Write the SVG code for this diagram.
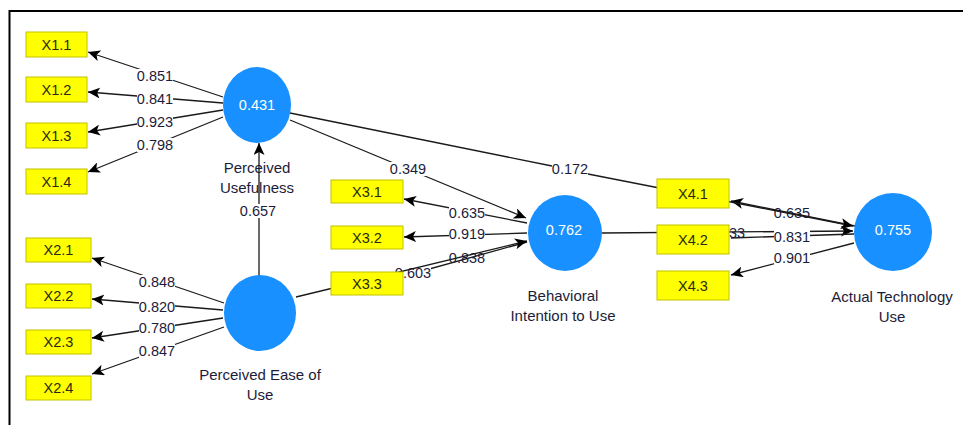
<svg xmlns="http://www.w3.org/2000/svg" width="963" height="425" viewBox="0 0 963 425">
<defs>
<marker id="ah" markerUnits="userSpaceOnUse" markerWidth="13" markerHeight="11" refX="12" refY="5.5" orient="auto">
<path d="M0,0 L12,5.5 L0,11 L3,5.5 z" fill="#000"/>
</marker>
<style>
.c{stroke:#1a1a1a;stroke-width:1.3;fill:none}
.a{marker-end:url(#ah)}
.t{font-family:"Liberation Sans",Arial,sans-serif;font-size:14.5px;text-anchor:middle;fill:#1c1c3a}
.n{font-size:15px}
.bg{fill:#fff}
.ind rect{fill:#ffff00;stroke:#c2c200;stroke-width:1}
.ind text{font-family:"Liberation Sans",Arial,sans-serif;font-size:14.5px;text-anchor:middle;fill:#2a2a10}
.lv ellipse{fill:#1890ff}
.lv .v{font-family:"Liberation Sans",Arial,sans-serif;font-size:14.5px;text-anchor:middle;fill:#fff}
</style>
</defs>
<rect width="963" height="425" fill="#fff"/>
<path d="M9.5,425 V11 H963" fill="none" stroke="#000" stroke-width="2"/>

<g id="connectors">
<line class="c a" x1="223" y1="97" x2="88" y2="52"/>
<line class="c a" x1="223" y1="103" x2="88" y2="92"/>
<line class="c a" x1="223" y1="110" x2="88" y2="132"/>
<line class="c a" x1="223" y1="117" x2="88" y2="172"/>
<line class="c a" x1="224" y1="303" x2="92" y2="258"/>
<line class="c a" x1="223" y1="310" x2="92" y2="299"/>
<line class="c a" x1="223" y1="318" x2="92" y2="338"/>
<line class="c a" x1="224" y1="327" x2="92" y2="374"/>
<line class="c a" x1="259" y1="276" x2="259" y2="143"/>
<line class="c a" x1="290" y1="120" x2="526" y2="218"/>
<line class="c a" x1="527" y1="223" x2="404" y2="199"/>
<line class="c a" x1="527" y1="233" x2="404" y2="237"/>
<line class="c" x1="527" y1="242" x2="404" y2="276"/>
<line class="c a" x1="602" y1="233" x2="853" y2="231"/>
<line class="c" x1="854" y1="234" x2="731" y2="238"/>
<line class="c a" x1="854" y1="243" x2="731" y2="275"/>
</g>

<g id="labels">
<rect class="bg" x="137" y="69" width="36" height="14"/><text class="t" x="155" y="81">0.851</text>
<rect class="bg" x="137" y="92" width="36" height="14"/><text class="t" x="155" y="104">0.841</text>
<rect class="bg" x="137" y="115" width="36" height="14"/><text class="t" x="155" y="127">0.923</text>
<rect class="bg" x="137" y="138" width="36" height="14"/><text class="t" x="155" y="150">0.798</text>
<rect class="bg" x="139" y="275" width="36" height="14"/><text class="t" x="157" y="287">0.848</text>
<rect class="bg" x="139" y="300" width="36" height="14"/><text class="t" x="157" y="312">0.820</text>
<rect class="bg" x="139" y="321" width="36" height="14"/><text class="t" x="157" y="333">0.780</text>
<rect class="bg" x="139" y="344" width="36" height="14"/><text class="t" x="157" y="356">0.847</text>
<rect class="bg" x="240" y="204" width="36" height="14"/><text class="t" x="258" y="216">0.657</text>
<rect class="bg" x="390" y="162" width="36" height="14"/><text class="t" x="408" y="174">0.349</text>
<rect class="bg" x="449" y="206" width="36" height="14"/><text class="t" x="467" y="218">0.635</text>
<rect class="bg" x="449" y="227" width="36" height="14"/><text class="t" x="467" y="239">0.919</text>
<rect class="bg" x="395" y="266" width="36" height="14"/><text class="t" x="413" y="278">0.603</text>
<text class="t" x="737" y="238">33</text>
<rect class="bg" x="774" y="230" width="36" height="14"/><text class="t" x="792" y="242">0.831</text>
<rect class="bg" x="774" y="251" width="36" height="14"/><text class="t" x="792" y="263">0.901</text>
</g>

<g id="overlaps">
<line class="c a" x1="296" y1="297" x2="527" y2="241"/>
<text class="t" x="467" y="263">0.838</text>
<line class="c a" x1="855" y1="226" x2="731" y2="201"/>
<text class="t" x="792" y="218">0.635</text>
<line class="c" x1="290" y1="113" x2="552" y2="166"/>
<rect class="bg" x="552" y="162" width="36" height="14"/><text class="t" x="570" y="174">0.172</text>
<line class="c a" x1="588" y1="174" x2="853" y2="226"/>
</g>

<g id="X1.1" class="ind"><rect x="26" y="32" width="61" height="25"/><text x="56.5" y="49.5">X1.1</text></g>
<g id="X1.2" class="ind"><rect x="26" y="77" width="61" height="25"/><text x="56.5" y="94.5">X1.2</text></g>
<g id="X1.3" class="ind"><rect x="26" y="123" width="61" height="25"/><text x="56.5" y="140.5">X1.3</text></g>
<g id="X1.4" class="ind"><rect x="26" y="169" width="61" height="25"/><text x="56.5" y="186.5">X1.4</text></g>
<g id="X2.1" class="ind"><rect x="26" y="238" width="65" height="24"/><text x="58.5" y="255">X2.1</text></g>
<g id="X2.2" class="ind"><rect x="26" y="284" width="65" height="24"/><text x="58.5" y="301">X2.2</text></g>
<g id="X2.3" class="ind"><rect x="26" y="330" width="65" height="24"/><text x="58.5" y="347">X2.3</text></g>
<g id="X2.4" class="ind"><rect x="26" y="376" width="65" height="24"/><text x="58.5" y="393">X2.4</text></g>
<g id="X3.1" class="ind"><rect x="331" y="180" width="72" height="23"/><text x="367" y="196.5">X3.1</text></g>
<g id="X3.2" class="ind"><rect x="331" y="226" width="72" height="23"/><text x="367" y="242.5">X3.2</text></g>
<g id="X3.3" class="ind"><rect x="331" y="272" width="72" height="23"/><text x="367" y="288.5">X3.3</text></g>
<g id="X4.1" class="ind"><rect x="657" y="179" width="72" height="29"/><text x="693" y="198.5">X4.1</text></g>
<g id="X4.2" class="ind"><rect x="657" y="225" width="72" height="29"/><text x="693" y="244.5">X4.2</text></g>
<g id="X4.3" class="ind"><rect x="657" y="271" width="72" height="29"/><text x="693" y="290.5">X4.3</text></g>

<g id="PU" class="lv"><ellipse cx="257" cy="105" rx="34" ry="38"/><text class="v" x="257" y="110">0.431</text>
<text class="t n" x="257" y="173">Perceived</text><text class="t n" x="257" y="193">Usefulness</text></g>
<g id="PEOU" class="lv"><ellipse cx="260" cy="313" rx="36" ry="38"/>
<text class="t n" x="260" y="380">Perceived Ease of</text><text class="t n" x="260" y="400">Use</text></g>
<g id="BI" class="lv"><ellipse cx="565" cy="233" rx="37" ry="38"/><text class="v" x="564" y="235">0.762</text>
<text class="t n" x="563" y="301">Behavioral</text><text class="t n" x="563" y="321">Intention to Use</text></g>
<g id="ATU" class="lv"><ellipse cx="893" cy="232" rx="39" ry="39"/><text class="v" x="893" y="235">0.755</text>
<text class="t n" x="892" y="302">Actual Technology</text><text class="t n" x="892" y="322">Use</text></g>
</svg>
